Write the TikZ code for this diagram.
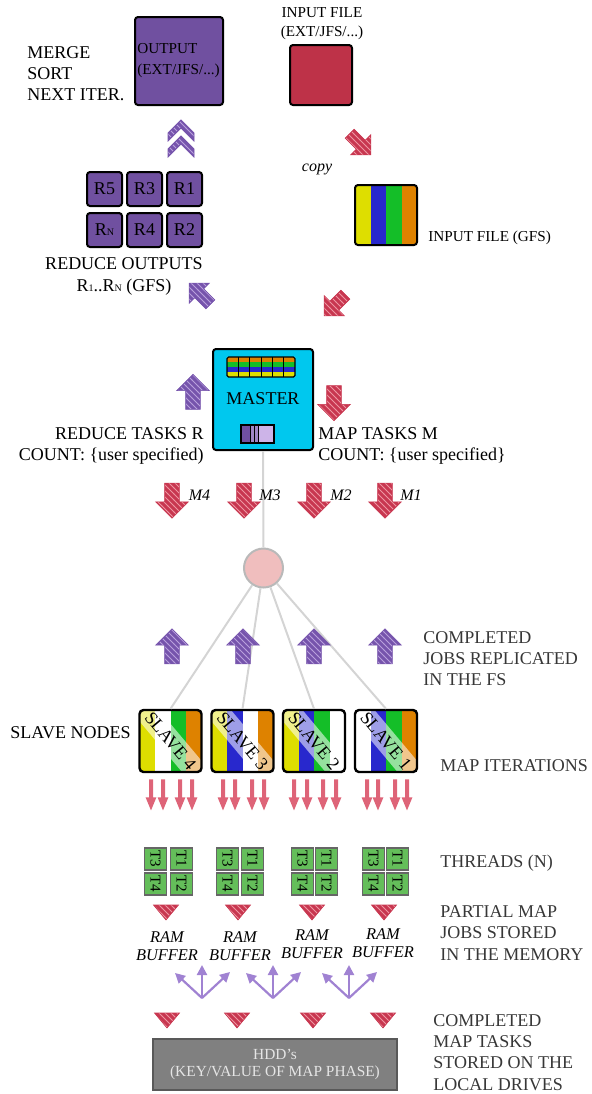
\documentclass[tikz,border=0pt]{standalone}
\usepackage{fontspec}
\setmainfont{Liberation Serif}
\usetikzlibrary{shapes.arrows,patterns,arrows.meta,positioning}

\definecolor{outpurple}{RGB}{112,80,160}
\definecolor{inred}{RGB}{190,50,72}
\definecolor{redarr}{RGB}{200,55,80}
\definecolor{redhatch}{RGB}{238,150,162}
\definecolor{purarr}{RGB}{118,84,172}
\definecolor{purhatch}{RGB}{185,160,220}
\definecolor{mastercyan}{RGB}{0,200,238}
\definecolor{syellow}{RGB}{222,222,0}
\definecolor{sblue}{RGB}{40,40,205}
\definecolor{sgreen}{RGB}{20,190,40}
\definecolor{sorange}{RGB}{222,130,0}
\definecolor{pinkarr}{RGB}{222,100,120}
\definecolor{tgreen}{RGB}{100,190,90}
\definecolor{lavender}{RGB}{160,130,210}
\definecolor{lightpur}{RGB}{205,180,232}
\definecolor{hddgray}{RGB}{128,128,128}
\definecolor{hubpink}{RGB}{240,190,190}
\definecolor{wire}{RGB}{212,212,212}
\definecolor{txtgray}{RGB}{55,55,55}

\tikzset{
  lbl/.style={font=\fontsize{9}{10.6}\selectfont, inner sep=0pt, align=left},
  rlbl/.style={lbl, text=txtgray, anchor=west},
  small/.style={font=\fontsize{7.6}{9.6}\selectfont, inner sep=0pt},
  ital/.style={font=\fontsize{8}{9.2}\selectfont\itshape, inner sep=0pt, align=center},
  filebox/.style={draw=black, line width=1pt, rounded corners=1.5pt, inner sep=0pt},
  rbox/.style={filebox, fill=outpurple, minimum width=17.5pt, minimum height=17pt, font=\fontsize{9}{9}\selectfont},
  fatarr/.style={single arrow, inner xsep=0pt, inner ysep=3.5pt, minimum height=17.5pt, minimum width=16pt,
    single arrow head extend=4.5pt, single arrow tip angle=90, draw=#1, line width=0.3pt},
  diagarr/.style={single arrow, inner xsep=0pt, inner ysep=3pt, minimum height=15pt, minimum width=14pt,
    single arrow head extend=4pt, single arrow tip angle=90, draw=#1, line width=0.3pt},
  redfill/.style={preaction={fill=redarr}, pattern=north west lines, pattern color=redhatch},
  purfill/.style={preaction={fill=purarr}, pattern=north west lines, pattern color=purhatch},
  thinarr/.style={single arrow, inner xsep=0pt, inner ysep=0.8pt, fill=pinkarr, minimum height=15.5pt, minimum width=5pt,
    single arrow head extend=1.7pt, single arrow tip angle=45, rotate=-90},
  slavebox/.style={draw=black, line width=1.2pt, rounded corners=2pt, minimum size=31pt, inner sep=0pt},
  slavetxt/.style={font=\fontsize{9}{9}\selectfont, fill=white, fill opacity=0.55, text opacity=1,
    minimum width=60pt, inner ysep=2.5pt},
  thread/.style={draw=gray!80!black, fill=tgreen, line width=0.6pt, minimum size=11pt, inner sep=0pt,
    rotate=-90, font=\fontsize{7.5}{7.5}\selectfont},
  tri/.style={preaction={fill=redarr}, pattern=north west lines, pattern color=redhatch},
  wireline/.style={draw=wire, line width=1pt},
  fork/.style={draw=lavender, line width=1.1pt, -{Triangle[length=5pt,width=5pt]}}
}

\begin{document}
\begin{tikzpicture}[x=0.5pt,y=-0.5pt]
\useasboundingbox (0,0) rectangle (592,1094);

\node[lbl, anchor=west] (merge) at (27,73.5) {MERGE\\SORT\\NEXT ITER.};
\node[filebox, fill=outpurple, minimum width=44pt, minimum height=44pt] (output) at (179,61) {};
\node[small, anchor=west, align=left, font=\fontsize{7.6}{10.5}\selectfont] (outtxt) at (137,61) {OUTPUT\\(EXT/JFS/...)};

\node[small, align=center, font=\fontsize{7.6}{9.5}\selectfont] (inlbl) at (322,24) {INPUT FILE\\(EXT/JFS/...)};
\node[filebox, fill=inred, minimum width=31pt, minimum height=30pt] (infile) at (321,75) {};
\node[diagarr=redarr, redfill, rotate=-45] (copyarr) at (358,142) {};
\node[ital] (copy) at (317,169) {copy};

\fill[syellow] (355,185) rectangle (370.5,245);
\fill[sblue] (370.5,185) rectangle (386,245);
\fill[sgreen] (386,185) rectangle (401.5,245);
\fill[sorange] (401.5,185) rectangle (417,245);
\node[filebox, minimum width=31pt, minimum height=30pt] (gfs) at (386,215) {};
\node[small, anchor=west] (gfslbl) at (428,238) {INPUT FILE (GFS)};

\path[draw=purarr, purfill] (181,120) -- (194,133) -- (194,141) -- (181,128) -- (168,141) -- (168,133) -- cycle;
\path[draw=purarr, purfill] (181,136) -- (194,149) -- (194,157) -- (181,144) -- (168,157) -- (168,149) -- cycle;

\node[rbox] (r5) at (104.5,189) {R5};
\node[rbox] (r3) at (144.5,189) {R3};
\node[rbox] (r1) at (184.5,189) {R1};
\node[rbox] (rn) at (104.5,230) {R{\fontsize{5}{5}\selectfont N}};
\node[rbox] (r4) at (144.5,230) {R4};
\node[rbox] (r2) at (184.5,230) {R2};
\node[lbl, align=center, font=\fontsize{9}{11}\selectfont] (redout) at (124,276)
  {REDUCE OUTPUTS\\R{\fontsize{5}{5}\selectfont 1}..R{\fontsize{5}{5}\selectfont N} (GFS)};
\node[diagarr=purarr, purfill, rotate=135] (rdarr) at (202,296) {};
\node[diagarr=redarr, redfill, rotate=-135] (mparr) at (337,303) {};

\node[filebox, fill=mastercyan, minimum width=50pt, minimum height=50.5pt] (master) at (263,399.5) {};
\fill[sorange] (227,357) rectangle (295,362);
\fill[sgreen] (227,362) rectangle (295,367);
\fill[sblue] (227,367) rectangle (295,372);
\fill[syellow] (227,372) rectangle (295,377);
\draw[line width=0.4pt] (238.3,357) -- (238.3,377) (249.7,357) -- (249.7,377) (261,357) -- (261,377)
  (272.3,357) -- (272.3,377) (283.7,357) -- (283.7,377);
\draw[line width=0.6pt, rounded corners=0.8pt] (227,357) rectangle (295,377);
\node[lbl] (mastertxt) at (263,399) {MASTER};
\fill[lightpur] (241,425) rectangle (274,443);
\fill[outpurple] (241,425) rectangle (250,443);
\fill[purarr!70!white] (250,425) rectangle (258,443);
\draw[line width=0.4pt] (250,425) -- (250,443) (254,425) -- (254,443) (258,425) -- (258,443);
\draw[line width=0.6pt] (241,425) rectangle (274,443);
\node[fatarr=purarr, purfill, rotate=90] (rtaskarr) at (193,395.5) {};
\node[fatarr=redarr, redfill, rotate=-90] (mtaskarr) at (334,399.5) {};
\node[lbl, anchor=east, align=right, font=\fontsize{9}{10.5}\selectfont] (rtasks) at (204,445.5)
  {REDUCE TASKS R\\COUNT: \{user specified)};
\node[lbl, anchor=west, font=\fontsize{9}{10.5}\selectfont] (mtasks) at (318,445.5)
  {MAP TASKS M\\COUNT: \{user specified\}};

\node[circle, fill=hubpink, draw=gray!55, line width=1pt, minimum size=19.5pt, inner sep=0pt] (hub) at (263.5,568) {};

\begin{scope}
  \clip[rounded corners=2pt] (139.5,710) rectangle (201.5,772);
  \fill[syellow] (139.5,710) rectangle (155,772);
  \fill[white] (155,710) rectangle (170.5,772);
  \fill[sgreen] (170.5,710) rectangle (186,772);
  \fill[sorange] (186,710) rectangle (201.5,772);
  \node[slavetxt, rotate=-50] (s4txt) at (170.5,741) {SLAVE 4};
\end{scope}
\node[slavebox] (s4) at (170.5,741) {};
\begin{scope}
  \clip[rounded corners=2pt] (211.5,710) rectangle (273.5,772);
  \fill[syellow] (211.5,710) rectangle (227,772);
  \fill[sblue] (227,710) rectangle (242.5,772);
  \fill[white] (242.5,710) rectangle (258,772);
  \fill[sorange] (258,710) rectangle (273.5,772);
  \node[slavetxt, rotate=-50] (s3txt) at (242.5,741) {SLAVE 3};
\end{scope}
\node[slavebox] (s3) at (242.5,741) {};
\begin{scope}
  \clip[rounded corners=2pt] (283,710) rectangle (345,772);
  \fill[syellow] (283,710) rectangle (298.5,772);
  \fill[sblue] (298.5,710) rectangle (314,772);
  \fill[sgreen] (314,710) rectangle (329.5,772);
  \fill[white] (329.5,710) rectangle (345,772);
  \node[slavetxt, rotate=-50] (s2txt) at (314,741) {SLAVE 2};
\end{scope}
\node[slavebox] (s2) at (314,741) {};
\begin{scope}
  \clip[rounded corners=2pt] (355,710) rectangle (417,772);
  \fill[white] (355,710) rectangle (370.5,772);
  \fill[sblue] (370.5,710) rectangle (386,772);
  \fill[sgreen] (386,710) rectangle (401.5,772);
  \fill[sorange] (401.5,710) rectangle (417,772);
  \node[slavetxt, rotate=-50] (s1txt) at (386,741) {SLAVE 1};
\end{scope}
\node[slavebox] (s1) at (386,741) {};

\draw[wireline] (master.south) -- (hub.north);
\draw[wireline] (hub) -- (s4.north);
\draw[wireline] (hub) -- (s3.north);
\draw[wireline] (hub) -- (s2.north);
\draw[wireline] (hub) -- (s1.north);

\node[fatarr=redarr, redfill, rotate=-90] (m4) at (172,497) {};
\node[fatarr=redarr, redfill, rotate=-90] (m3) at (244,497) {};
\node[fatarr=redarr, redfill, rotate=-90] (m2) at (314,497) {};
\node[fatarr=redarr, redfill, rotate=-90] (m1) at (385,497) {};
\node[ital] (m4lbl) at (199.5,495) {M4};
\node[ital] (m3lbl) at (270,495) {M3};
\node[ital] (m2lbl) at (341,495) {M2};
\node[ital] (m1lbl) at (411,495) {M1};

\node[fatarr=purarr, purfill, rotate=90] (up4) at (172,650) {};
\node[fatarr=purarr, purfill, rotate=90] (up3) at (243,650) {};
\node[fatarr=purarr, purfill, rotate=90] (up2) at (314,650) {};
\node[fatarr=purarr, purfill, rotate=90] (up1) at (385,650) {};
\node[rlbl] (replicated) at (423,658.5) {COMPLETED\\JOBS REPLICATED\\IN THE FS};

\node[lbl, anchor=west] (slaves) at (10,733) {SLAVE NODES};
\node[rlbl] (mapiter) at (440,766) {MAP ITERATIONS};

\node[thinarr] (p41) at (151,792.5) {};
\node[thinarr] (p42) at (163,792.5) {};
\node[thinarr] (p43) at (180,792.5) {};
\node[thinarr] (p44) at (192,792.5) {};
\node[thinarr] (p31) at (223,792.5) {};
\node[thinarr] (p32) at (235,792.5) {};
\node[thinarr] (p33) at (252,792.5) {};
\node[thinarr] (p34) at (264,792.5) {};
\node[thinarr] (p21) at (294,792.5) {};
\node[thinarr] (p22) at (307,792.5) {};
\node[thinarr] (p23) at (323,792.5) {};
\node[thinarr] (p24) at (336,792.5) {};
\node[thinarr] (p11) at (367,792.5) {};
\node[thinarr] (p12) at (378,792.5) {};
\node[thinarr] (p13) at (395,792.5) {};
\node[thinarr] (p14) at (407,792.5) {};

\node[thread] (t43) at (155.5,859) {T3};
\node[thread] (t41) at (181.5,859) {T1};
\node[thread] (t44) at (155.5,884) {T4};
\node[thread] (t42) at (181.5,884) {T2};
\node[thread] (t33) at (227.5,859) {T3};
\node[thread] (t31) at (252.5,859) {T1};
\node[thread] (t34) at (227.5,884) {T4};
\node[thread] (t32) at (252.5,884) {T2};
\node[thread] (t23) at (302.5,859) {T3};
\node[thread] (t21) at (326.5,859) {T1};
\node[thread] (t24) at (302.5,884) {T4};
\node[thread] (t22) at (326.5,884) {T2};
\node[thread] (t13) at (373.5,859) {T3};
\node[thread] (t11) at (397.5,859) {T1};
\node[thread] (t14) at (373.5,884) {T4};
\node[thread] (t12) at (397.5,884) {T2};
\node[rlbl] (threads) at (440,863) {THREADS (N)};

\path[tri, draw=redarr, line width=0.3pt] (153.5,905) -- (178.5,905) -- (166,920) -- cycle;
\path[tri, draw=redarr, line width=0.3pt] (225.5,905) -- (250.5,905) -- (238,920) -- cycle;
\path[tri, draw=redarr, line width=0.3pt] (299.5,905) -- (324.5,905) -- (312,920) -- cycle;
\path[tri, draw=redarr, line width=0.3pt] (371.5,905) -- (396.5,905) -- (384,920) -- cycle;

\node[ital, font=\fontsize{8.2}{9.2}\selectfont\itshape] (ram4) at (167,946) {RAM\\BUFFER};
\node[ital, font=\fontsize{8.2}{9.2}\selectfont\itshape] (ram3) at (240,946) {RAM\\BUFFER};
\node[ital, font=\fontsize{8.2}{9.2}\selectfont\itshape] (ram2) at (312,944) {RAM\\BUFFER};
\node[ital, font=\fontsize{8.2}{9.2}\selectfont\itshape] (ram1) at (383,943) {RAM\\BUFFER};
\node[rlbl] (partial) at (440,933) {PARTIAL MAP\\JOBS STORED\\IN THE MEMORY};

\coordinate (fa) at (202,998);
\coordinate (fb) at (273,998);
\coordinate (fc) at (349,998);
\draw[fork] (fa) -- ++(-27,-25);
\draw[fork] (fa) -- ++(0,-33);
\draw[fork] (fa) -- ++(28,-26);
\draw[fork] (fb) -- ++(-27,-25);
\draw[fork] (fb) -- ++(0,-33);
\draw[fork] (fb) -- ++(28,-26);
\draw[fork] (fc) -- ++(-27,-25);
\draw[fork] (fc) -- ++(0,-33);
\draw[fork] (fc) -- ++(28,-26);

\path[tri, draw=redarr, line width=0.3pt] (154.5,1013) -- (179.5,1013) -- (167,1028) -- cycle;
\path[tri, draw=redarr, line width=0.3pt] (224.5,1013) -- (249.5,1013) -- (237,1028) -- cycle;
\path[tri, draw=redarr, line width=0.3pt] (300.5,1013) -- (325.5,1013) -- (313,1028) -- cycle;
\path[tri, draw=redarr, line width=0.3pt] (370.5,1013) -- (395.5,1013) -- (383,1028) -- cycle;

\node[fill=hddgray, draw=gray!70!black, line width=1.2pt, minimum width=122pt, minimum height=25.5pt,
  inner sep=0pt, align=center, text=white!90!black, font=\fontsize{7.7}{8.6}\selectfont] (hdd) at (275,1064.5)
  {HDD's\\(KEY/VALUE OF MAP PHASE)};
\node[rlbl] (stored) at (433,1052.5) {COMPLETED\\MAP TASKS\\STORED ON THE\\LOCAL DRIVES};
\end{tikzpicture}
\end{document}
